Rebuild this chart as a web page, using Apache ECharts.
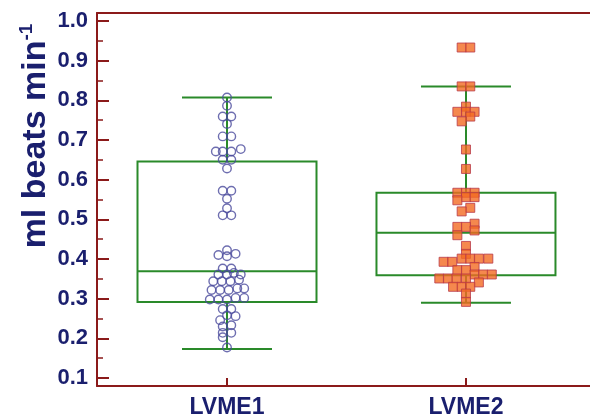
<!DOCTYPE html>
<html><head><meta charset="utf-8">
<script src="https://cdn.jsdelivr.net/npm/echarts@6/dist/echarts.min.js"></script>
<style>html,body{margin:0;padding:0;background:#fff}#c{width:590px;height:419px}</style>
</head><body><div id="c"></div>
<script>
// ---------- data ----------
const categories = ['LVME1', 'LVME2'];
const yTicks = [0.1, 0.2, 0.3, 0.4, 0.5, 0.6, 0.7, 0.8, 0.9, 1.0];
const yMinorTicks = [0.15, 0.25, 0.35, 0.45, 0.55, 0.65, 0.75, 0.85, 0.95];
// box statistics: [min, q1, median, q3, max]
const lvme1Box = [0.173, 0.292, 0.369, 0.646, 0.807];
const lvme2Box = [0.290, 0.359, 0.466, 0.567, 0.835];
// individual points: [swarm offset (marker widths), value]
const lvme1Points = [
  [0,0.807],[0,0.786],[-0.5,0.759],[0.5,0.759],[0,0.740],[-0.5,0.709],[0.5,0.709],
  [-1.3,0.671],[-0.5,0.671],[0.5,0.671],[1.6,0.677],[-0.5,0.650],[0.5,0.650],[0,0.628],
  [-0.5,0.572],[0.5,0.572],[0,0.552],[0,0.528],[-0.5,0.510],[0.5,0.510],
  [0,0.422],[-1,0.410],[0,0.407],[1,0.413],
  [-0.5,0.376],[0.5,0.376],
  [-1,0.361],[0,0.361],[0.8,0.365],[1.6,0.361],
  [-1.6,0.344],[-0.6,0.344],[0.4,0.344],[1.4,0.348],
  [-1.8,0.322],[-0.8,0.322],[0.2,0.322],[1.2,0.326],[2,0.326],
  [-2,0.298],[-1,0.298],[0,0.298],[1,0.302],[2,0.302],
  [-0.5,0.274],[0.5,0.274],[0,0.258],[1,0.256],[-0.8,0.246],
  [-0.5,0.230],[0.5,0.233],[-0.5,0.214],[0.5,0.214],[-0.5,0.203],[0,0.177]
];
const lvme2Points = [
  [-0.5,0.933],[0.5,0.933],[-0.5,0.835],[0.5,0.835],
  [0,0.784],[-1,0.771],[0,0.771],[1,0.771],[0.5,0.759],[-0.5,0.747],
  [0,0.676],[0,0.627],
  [-1,0.567],[0,0.567],[1,0.567],[0,0.556],[1,0.556],[-1,0.548],[0.5,0.529],[-0.5,0.520],
  [1,0.489],[-1,0.481],[0,0.481],[1,0.472],[-1,0.460],
  [0,0.433],[0,0.413],
  [-0.5,0.401],[0.5,0.401],[1.5,0.401],[2.6,0.401],[-2.6,0.393],[-1.6,0.393],
  [1,0.380],[-1,0.372],[0,0.372],
  [1,0.361],[2,0.361],[3,0.361],
  [-3.1,0.351],[-2.1,0.351],[-1.1,0.351],[0,0.351],
  [1.5,0.341],[-1.5,0.330],[-0.5,0.330],[0.5,0.330],
  [0,0.313],[0,0.292]
];

// ---------- style constants ----------
const SWARM_STEP = 0.036;
const NAVY = '#1a1f6e';
const AXIS_RED = '#8b1a1a';
const GREEN = '#2a8a2a';
const FONT = 'Liberation Sans, Arial, sans-serif';
const BOX_HALF = 89.5, CAP_HALF = 45;

const boxData = [[1].concat(lvme1Box), [2].concat(lvme2Box)];
const s1 = lvme1Points.map(p => [1 + p[0] * SWARM_STEP, p[1]]);
const s2 = lvme2Points.map(p => [2 + p[0] * SWARM_STEP, p[1]]);

const chart = echarts.init(document.getElementById('c'), null, {renderer: 'canvas'});
chart.setOption({
  animation: false,
  backgroundColor: '#fff',
  grid: {left: 97, right: 0, top: 13, bottom: 33},
  xAxis: [{
    type: 'value', min: 0.456, max: 2.519, position: 'bottom',
    axisLine: {show: true, onZero: false, lineStyle: {color: AXIS_RED, width: 2}},
    axisTick: {show: true, inside: true, length: 8, customValues: [1, 2], lineStyle: {color: AXIS_RED, width: 2}},
    axisLabel: {customValues: [1, 2], formatter: v => categories[Math.round(v) - 1],
      color: NAVY, fontSize: 23, fontWeight: 'bold', fontFamily: FONT, margin: 10},
    splitLine: {show: false}
  }, {
    type: 'value', min: 0.456, max: 2.519, position: 'top',
    axisLine: {show: true, onZero: false, lineStyle: {color: AXIS_RED, width: 2}},
    axisTick: {show: false}, axisLabel: {show: false}, splitLine: {show: false}
  }],
  yAxis: [{
    type: 'value', min: 0.08, max: 1.02, position: 'left',
    axisLine: {show: true, onZero: false, lineStyle: {color: AXIS_RED, width: 2}},
    axisTick: {show: true, inside: true, length: 12, customValues: yTicks, lineStyle: {color: AXIS_RED, width: 2}},
    axisLabel: {customValues: yTicks, formatter: v => v.toFixed(1),
      color: NAVY, fontSize: 22, fontWeight: 'bold', fontFamily: FONT, margin: 9},
    splitLine: {show: false}
  }, {
    type: 'value', min: 0.08, max: 1.02, position: 'left',
    axisLine: {show: false},
    axisTick: {show: true, inside: true, length: 6, customValues: yMinorTicks, lineStyle: {color: AXIS_RED, width: 1.5}},
    axisLabel: {show: false}, splitLine: {show: false}
  }],
  graphic: [{
    type: 'text', x: 36, y: 136, rotation: Math.PI / 2,
    style: {
      text: '{a|ml beats min}{b|-1}',
      align: 'center', verticalAlign: 'middle',
      rich: {
        a: {fontSize: 34, fontWeight: 'bold', fontFamily: FONT, fill: NAVY, lineHeight: 38},
        b: {fontSize: 19, fontWeight: 'bold', fontFamily: FONT, fill: NAVY, verticalAlign: 'top', lineHeight: 38}
      }
    }
  }],
  series: [{
    type: 'custom', xAxisIndex: 0, yAxisIndex: 0, z: 2,
    data: boxData,
    renderItem: function (params, api) {
      const x = api.value(0);
      const pMin = api.coord([x, api.value(1)]);
      const pQ1 = api.coord([x, api.value(2)]);
      const pMed = api.coord([x, api.value(3)]);
      const pQ3 = api.coord([x, api.value(4)]);
      const pMax = api.coord([x, api.value(5)]);
      const cx = pMed[0];
      const ls = {stroke: GREEN, lineWidth: 2, fill: null};
      return {type: 'group', children: [
        {type: 'rect', shape: {x: cx - BOX_HALF, y: pQ3[1], width: 2 * BOX_HALF, height: pQ1[1] - pQ3[1]}, style: {stroke: GREEN, lineWidth: 2, fill: 'rgba(0,0,0,0)'}},
        {type: 'line', shape: {x1: cx - BOX_HALF, y1: pMed[1], x2: cx + BOX_HALF, y2: pMed[1]}, style: ls},
        {type: 'line', shape: {x1: cx, y1: pQ3[1], x2: cx, y2: pMax[1]}, style: ls},
        {type: 'line', shape: {x1: cx, y1: pQ1[1], x2: cx, y2: pMin[1]}, style: ls},
        {type: 'line', shape: {x1: cx - CAP_HALF, y1: pMax[1], x2: cx + CAP_HALF, y2: pMax[1]}, style: ls},
        {type: 'line', shape: {x1: cx - CAP_HALF, y1: pMin[1], x2: cx + CAP_HALF, y2: pMin[1]}, style: ls}
      ]};
    }
  }, {
    type: 'scatter', xAxisIndex: 0, yAxisIndex: 0, z: 3,
    data: s1, symbol: 'circle', symbolSize: 8.5,
    itemStyle: {color: 'rgba(0,0,0,0)', borderColor: '#4a4a9c', borderWidth: 1.4}
  }, {
    type: 'scatter', xAxisIndex: 0, yAxisIndex: 0, z: 3,
    data: s2, symbol: 'rect', symbolSize: 9,
    itemStyle: {color: '#f26a22', borderColor: '#b8394a', borderWidth: 1}
  }]
});
</script></body></html>
